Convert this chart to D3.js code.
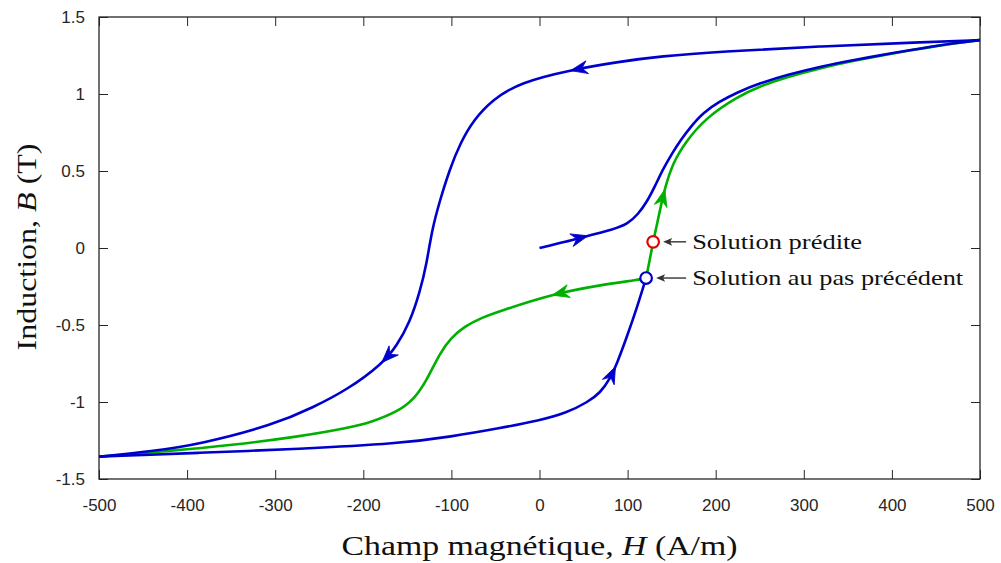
<!DOCTYPE html>
<html><head><meta charset="utf-8">
<script src="https://cdn.jsdelivr.net/npm/d3@7"></script>
<style>body{margin:0;background:#fff}</style>
</head><body>
<svg id="chart" width="1001" height="563"></svg>
<script>
// ---- data (H in A/m, B in T) ----
const xTicks = [-500,-400,-300,-200,-100,0,100,200,300,400,500];
const yTicks = [-1.5,-1,-0.5,0,0.5,1,1.5];
const yTickLabels = ["-1.5","-1","-0.5","0","0.5","1","1.5"];

const initialCurve = [[0,0],[30,0.04],[55,0.08],[83,0.12],[100,0.155],[112,0.22],[122,0.3],[131,0.4],[140,0.51],[150,0.61],[160,0.7],[172,0.79],[186,0.88],[204,0.95],[224,1.01],[250,1.07],[281,1.125],[320,1.18],[356,1.22],[400,1.265],[432,1.295],[470,1.33],[500,1.35]];
const descendingCurve = [[500,1.35],[432,1.335],[318,1.31],[205,1.275],[137,1.245],[91,1.21],[35,1.156],[-22,1.075],[-53,0.965],[-75,0.83],[-90,0.68],[-102,0.51],[-113,0.31],[-122,0.12],[-128,-0.1],[-136,-0.29],[-147,-0.48],[-162,-0.635],[-178,-0.75],[-218,-0.92],[-257,-1.035],[-300,-1.145],[-386,-1.275],[-440,-1.32],[-500,-1.355]];
const ascendingCurve = [[-500,-1.355],[-386,-1.33],[-273,-1.305],[-159,-1.27],[-100,-1.225],[-45,-1.17],[0,-1.12],[31,-1.07],[55,-1.0],[69,-0.94],[80,-0.85],[88,-0.75],[99,-0.58],[111,-0.38],[118,-0.25],[121,-0.195]];
const greenUpCurve = [[121,-0.195],[125,-0.08],[129,0.04],[134,0.17],[138,0.28],[142,0.38],[151,0.55],[167,0.7],[190,0.85],[224,0.98],[250,1.05],[281,1.11],[320,1.17],[356,1.215],[400,1.263],[432,1.294],[470,1.33],[500,1.35]];
const greenDownCurve = [[121,-0.195],[114,-0.205],[69,-0.24],[14,-0.3],[-45,-0.41],[-67,-0.455],[-85,-0.51],[-100,-0.58],[-113,-0.68],[-128,-0.86],[-142,-0.98],[-160,-1.06],[-190,-1.13],[-218,-1.17],[-273,-1.225],[-349,-1.28],[-424,-1.32],[-500,-1.355]];

// arrow tips: [curve id, H, B]
const arrowTips = [["initial",55,0.08],["descending",35,1.156],["descending",-178,-0.75],["ascending",86,-0.77],["greenUp",142,0.38],["greenDown",14,-0.3]];
const predictedSolution = [129,0.04];
const previousSolution = [121,-0.195];
const annotations = ["Solution prédite","Solution au pas précédent"];

// ---- layout ----
const svg = d3.select("#chart");
const L = 99, T = 17, R = 980, Bm = 479;
const x = d3.scaleLinear().domain([-500,500]).range([L,R]);
const y = d3.scaleLinear().domain([-1.5,1.5]).range([Bm,T]);
const axisColor = "#262626";
const BLUE = "#0000cc", GREEN = "#00b000";
const SERIF = "'Liberation Serif','Times New Roman',serif";

// axes (ticks inward, box)
const gx = svg.append("g").attr("transform",`translate(0,${Bm})`)
  .call(d3.axisBottom(x).tickValues(xTicks).tickSize(-9).tickPadding(26).tickFormat(d=>String(d)));
const gxt = svg.append("g").attr("transform",`translate(0,${T})`)
  .call(d3.axisTop(x).tickValues(xTicks).tickSize(-9).tickFormat(""));
const gy = svg.append("g").attr("transform",`translate(${L},0)`)
  .call(d3.axisLeft(y).tickValues(yTicks).tickSize(-9).tickPadding(14).tickFormat((d,i)=>yTickLabels[i]));
const gyr = svg.append("g").attr("transform",`translate(${R},0)`)
  .call(d3.axisRight(y).tickValues(yTicks).tickSize(-9).tickFormat(""));
[gx,gxt,gy,gyr].forEach(g=>{
  g.select(".domain").remove();
  g.selectAll(".tick line").attr("stroke",axisColor).attr("stroke-width",1);
  g.selectAll(".tick text").attr("fill",axisColor).style("font-family","'Liberation Sans', Arial, sans-serif").style("font-size","17px");
});
gx.selectAll(".tick text").attr("dy","0.35em");
svg.append("rect").attr("x",L).attr("y",T).attr("width",R-L).attr("height",Bm-T)
  .attr("fill","none").attr("stroke",axisColor).attr("stroke-width",1.3);

// curves
const line = d3.line().x(d=>x(d[0])).y(d=>y(d[1])).curve(d3.curveBasis);
const curves = {
  greenDown:{data:greenDownCurve,color:GREEN},
  greenUp:{data:greenUpCurve,color:GREEN},
  ascending:{data:ascendingCurve,color:BLUE},
  descending:{data:descendingCurve,color:BLUE},
  initial:{data:initialCurve,color:BLUE}
};
const gc = svg.append("g");
Object.entries(curves).forEach(([k,c])=>{
  c.path = gc.append("path").attr("d",line(c.data)).attr("fill","none")
    .attr("stroke",c.color).attr("stroke-width",2.6).attr("stroke-linejoin","round").node();
});

// arrowheads placed along curves
arrowTips.forEach(([id,h,b])=>{
  const c = curves[id], p = c.path, len = p.getTotalLength();
  const tx = x(h), ty = y(b);
  let best = 0, bd = Infinity;
  for(let l=0;l<=len;l+=0.5){const q=p.getPointAtLength(l);const dd=(q.x-tx)**2+(q.y-ty)**2;if(dd<bd){bd=dd;best=l;}}
  const tip = p.getPointAtLength(best), back = p.getPointAtLength(Math.max(0,best-8));
  const ang = Math.atan2(tip.y-back.y, tip.x-back.x)*180/Math.PI;
  svg.append("path").attr("d","M0,0 L-17,-6.5 L-11.5,0 L-17,6.5 Z")
    .attr("transform",`translate(${tip.x},${tip.y}) rotate(${ang})`)
    .attr("fill",c.color).attr("stroke",c.color).attr("stroke-width",0.8).attr("stroke-linejoin","miter");
});

// solution markers
const markers = [{p:previousSolution,color:BLUE},{p:predictedSolution,color:"#e60000"}];
svg.selectAll("circle.m").data(markers).enter().append("circle")
  .attr("cx",d=>x(d.p[0])).attr("cy",d=>y(d.p[1])).attr("r",5.8)
  .attr("fill","#fff").attr("stroke",d=>d.color).attr("stroke-width",2.2);

// annotations
const textX = x(predictedSolution[0]) + 39;
[[predictedSolution,annotations[0],170],[previousSolution,annotations[1],271]].forEach(([p,txt,w])=>{
  const cx = x(p[0]), cy = y(p[1]);
  const tipX = cx + 10, startX = textX - 6;
  svg.append("line").attr("x1",startX).attr("y1",cy).attr("x2",tipX+6).attr("y2",cy)
    .attr("stroke","#333").attr("stroke-width",1.4);
  svg.append("path").attr("d",`M${tipX},${cy} L${tipX+9},${cy-3.8} L${tipX+7},${cy} L${tipX+9},${cy+3.8} Z`).attr("fill","#333");
  svg.append("text").attr("x",textX).attr("y",cy).attr("dy","0.33em").text(txt)
    .attr("textLength",w).attr("lengthAdjust","spacingAndGlyphs")
    .style("font-family",SERIF).style("font-size","21px").attr("fill","#111");
});

// axis titles
const xt = svg.append("text").attr("x",(L+R)/2).attr("y",555).attr("text-anchor","middle")
  .attr("textLength",396).attr("lengthAdjust","spacingAndGlyphs")
  .style("font-family",SERIF).style("font-size","28px").attr("fill","#111");
xt.append("tspan").text("Champ magnétique, ");
xt.append("tspan").style("font-style","italic").text("H");
xt.append("tspan").text(" (A/m)");
const yt = svg.append("text").attr("transform",`translate(36,${247}) rotate(-90)`).attr("text-anchor","middle")
  .attr("textLength",207).attr("lengthAdjust","spacingAndGlyphs")
  .style("font-family",SERIF).style("font-size","28px").attr("fill","#111");
yt.append("tspan").text("Induction, ");
yt.append("tspan").style("font-style","italic").text("B");
yt.append("tspan").text(" (T)");
</script>
</body></html>
